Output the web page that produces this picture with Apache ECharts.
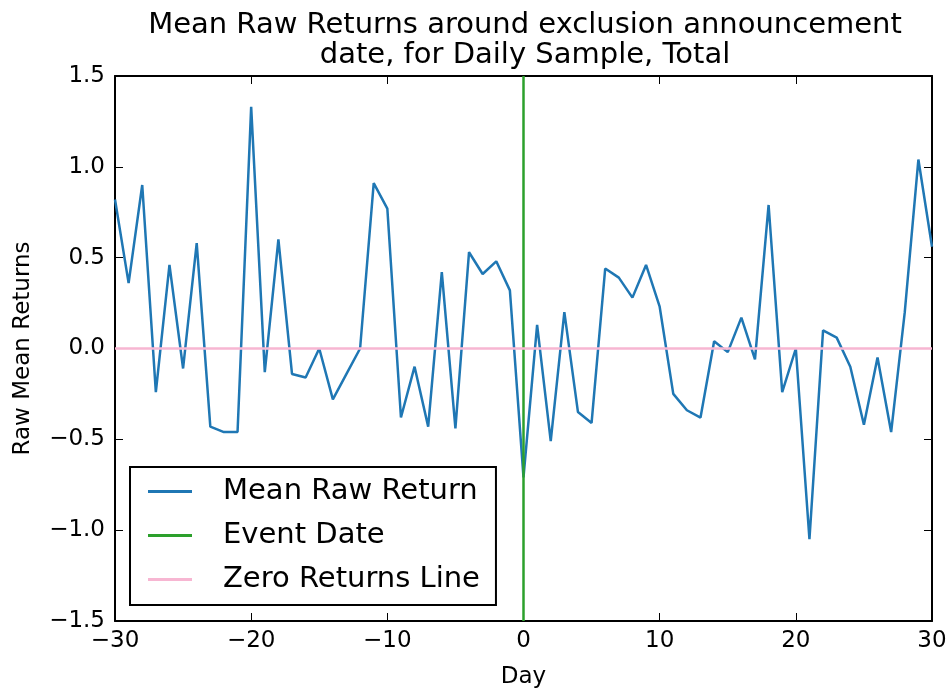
<!DOCTYPE html>
<html>
<head>
<meta charset="utf-8">
<script src="https://cdn.jsdelivr.net/npm/echarts@6/dist/echarts.min.js"></script>
<style>
  html, body { margin: 0; padding: 0; background: #fff; }
  #chart { width: 951px; height: 694px; }
</style>
</head>
<body>
<div id="chart"></div>
<script>
var days = [];
for (var d = -30; d <= 30; d++) days.push(d);

// mean raw return per day, -30 .. 30
var returns = [
    0.82, 0.36, 0.90, -0.24, 0.46, -0.11, 0.58, -0.43, -0.46, -0.46,
    1.33, -0.13, 0.60, -0.14, -0.16, 0.00, -0.28, -0.14, 0.00, 0.91,
    0.77, -0.38, -0.10, -0.43, 0.42, -0.44, 0.53, 0.41, 0.48, 0.32,
    -0.71,
    0.13, -0.51, 0.20, -0.35, -0.41, 0.44, 0.39, 0.28, 0.46, 0.23,
    -0.25, -0.34, -0.38, 0.04, -0.02, 0.17, -0.06, 0.79, -0.24, 0.00,
    -1.05, 0.10, 0.06, -0.10, -0.42, -0.05, -0.46, 0.20, 1.04, 0.56
];
var eventX = [0, 0];
var eventY = [-1.5, 1.5];
var zeroX = [-30, 30];
var zeroY = [0, 0];

function pairs(xs, ys) {
    return xs.map(function (x, i) { return [x, ys[i]]; });
}
function minus(s) { return String(s).replace('-', '\u2212'); }

var font = 'DejaVu Sans';
var tick = { inside: true, length: 8, lineStyle: { color: '#000', width: 1 } };
var spine = { show: true, onZero: false, lineStyle: { color: '#000', width: 2 } };

myChart = echarts.init(document.getElementById('chart'));
option = {
    animation: false,
    backgroundColor: '#fff',
    title: {
        text: 'Mean Raw Returns around exclusion announcement\ndate, for Daily Sample, Total',
        left: 520,
        top: 5,
        textAlign: 'center',
        textStyle: { fontFamily: font, fontSize: 29, fontWeight: 'normal', color: '#000', lineHeight: 30 }
    },
    grid: { left: 115, right: 19, top: 76, bottom: 73 },
    legend: {
        orient: 'vertical',
        left: 130,
        top: 467,
        borderColor: '#000',
        borderWidth: 2,
        padding: [10, 16, 11, 18],
        icon: 'rect',
        itemWidth: 44,
        itemHeight: 3,
        itemGap: 15,
        textStyle: { fontFamily: font, fontSize: 29, color: '#000', padding: [0, 0, 0, 26] },
        data: ['Mean Raw Return', 'Event Date', 'Zero Returns Line']
    },
    xAxis: [{
        type: 'value',
        min: -30, max: 30, interval: 10,
        name: 'Day',
        nameLocation: 'middle',
        nameGap: 45,
        nameTextStyle: { fontFamily: font, fontSize: 23, color: '#000' },
        axisLine: spine,
        axisTick: tick,
        axisLabel: {
            fontFamily: font, fontSize: 23, color: '#000', margin: 9,
            formatter: function (v) { return minus(v); }
        },
        splitLine: { show: false }
    }, {
        type: 'value',
        position: 'top',
        min: -30, max: 30, interval: 10,
        axisLine: spine,
        axisTick: tick,
        axisLabel: { show: false },
        splitLine: { show: false }
    }],
    yAxis: [{
        type: 'value',
        min: -1.5, max: 1.5, interval: 0.5,
        name: 'Raw Mean Returns',
        nameLocation: 'middle',
        nameGap: 80,
        nameTextStyle: { fontFamily: font, fontSize: 23, color: '#000' },
        axisLine: spine,
        axisTick: tick,
        axisLabel: {
            fontFamily: font, fontSize: 23, color: '#000', margin: 10,
            formatter: function (v) { return minus(v.toFixed(1)); }
        },
        splitLine: { show: false }
    }, {
        type: 'value',
        position: 'right',
        min: -1.5, max: 1.5, interval: 0.5,
        axisLine: spine,
        axisTick: tick,
        axisLabel: { show: false },
        splitLine: { show: false }
    }],
    series: [
        {
            name: 'Mean Raw Return',
            type: 'line',
            symbol: 'none',
            color: '#1f77b4',
            lineStyle: { width: 2.5, color: '#1f77b4' },
            data: pairs(days, returns),
            z: 3
        },
        {
            name: 'Event Date',
            type: 'line',
            symbol: 'none',
            color: '#2ca02c',
            lineStyle: { width: 2.5, color: '#2ca02c' },
            data: pairs(eventX, eventY),
            z: 4
        },
        {
            name: 'Zero Returns Line',
            type: 'line',
            symbol: 'none',
            color: '#f7b6d2',
            lineStyle: { width: 2.5, color: '#f7b6d2' },
            data: pairs(zeroX, zeroY),
            z: 5
        }
    ]
};

myChart.setOption(option);
window.addEventListener("resize", function () {
    myChart.resize();
});
</script>
</body>
</html>
